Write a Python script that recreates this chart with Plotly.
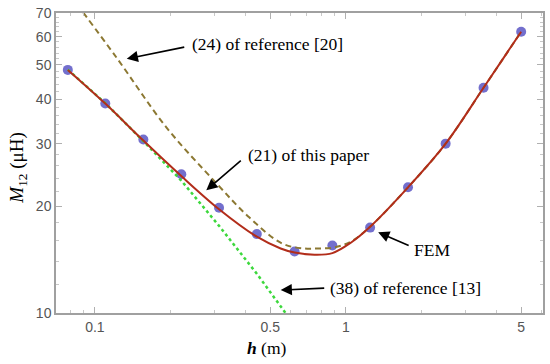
import math
import plotly.graph_objects as go

# FEM points
h_fem = [0.078, 0.11, 0.156, 0.221, 0.3125, 0.442, 0.625, 0.884, 1.25, 1.77, 2.5, 3.54, 5.0]
m_fem = [48.4, 38.9, 30.8, 24.6, 19.8, 16.7, 14.9, 15.5, 17.4, 22.6, 30.0, 43.1, 62.0]

# (21) of this paper
h_21 = [0.078, 0.11, 0.156, 0.221, 0.3125, 0.442, 0.55, 0.625, 0.75, 0.884, 1.05, 1.25, 1.77, 2.5, 3.54, 5.0]
m_21 = [48.4, 38.9, 30.6, 24.3, 19.6, 16.4, 15.2, 14.8, 14.6, 14.75, 15.8, 17.5, 22.6, 30.0, 43.1, 62.0]

# (24) of reference [20]
h_24 = [0.085, 0.122, 0.193, 0.305, 0.412, 0.557, 0.68, 0.78, 0.9, 1.05, 1.25, 1.77, 2.5, 3.54, 5.0]
m_24 = [74.0, 52.4, 33.3, 23.2, 18.6, 15.7, 15.2, 15.2, 15.3, 15.9, 17.5, 22.6, 30.0, 43.1, 62.0]

# (38) of reference [13]
h_38 = [0.078, 0.11, 0.156, 0.221, 0.3125, 0.442, 0.6]
m_38 = [48.5, 39.0, 30.5, 23.6, 17.6, 12.9, 9.6]

x_ticks = [0.1, 0.5, 1, 5]
x_tick_labels = ["0.1", "0.5", "1", "5"]
x_minor = [0.07, 0.08, 0.09, 0.2, 0.3, 0.4, 0.6, 0.7, 0.8, 0.9, 2, 3, 4, 6]
y_ticks = [10, 20, 30, 40, 50, 60, 70]
y_tick_labels = ["10", "20", "30", "40", "50", "60", "70"]
y_minor = [12, 14, 16, 18, 22, 24, 26, 28, 32, 34, 36, 38, 42, 44, 46, 48, 52, 54, 56, 58, 62, 64, 66, 68]

fig = go.Figure()
fig.add_trace(go.Scatter(x=h_fem, y=m_fem, mode="markers",
                         marker=dict(size=10, color="rgba(100,95,200,0.9)"), showlegend=False))
fig.add_trace(go.Scatter(x=h_38, y=m_38, mode="lines",
                         line=dict(color="#3CD83C", width=2.5, dash="dot"), showlegend=False))
fig.add_trace(go.Scatter(x=h_24, y=m_24, mode="lines", line_shape="spline",
                         line=dict(color="#8C7832", width=2, dash="6px,4px"), showlegend=False))
fig.add_trace(go.Scatter(x=h_21, y=m_21, mode="lines", line_shape="spline",
                         line=dict(color="#B22D1A", width=2), showlegend=False))

axis_common = dict(showline=True, linecolor="#a0a0a0", linewidth=1.5, mirror="allticks",
                   ticks="inside", ticklen=6, tickcolor="#b0b0b0", showgrid=False, zeroline=False,
                   tickfont=dict(family="Liberation Sans, Arial", size=14, color="#555555"))

fig.update_xaxes(type="log", range=[-1.155, 0.786], tickmode="array", tickvals=x_ticks,
                 ticktext=x_tick_labels,
                 minor=dict(tickmode="array", tickvals=x_minor, ticks="inside", ticklen=3,
                            tickcolor="#c8c8c8"), **axis_common)
fig.update_yaxes(type="log", range=[1, math.log10(70)], tickmode="array", tickvals=y_ticks,
                 ticktext=y_tick_labels,
                 minor=dict(tickmode="array", tickvals=y_minor, ticks="inside", ticklen=3,
                            tickcolor="#c8c8c8"), **axis_common)

serif = dict(family="Liberation Serif, Times New Roman", size=17.5, color="black")

arrows = [
    (-0.873, 1.716, 59, -12),
    (-0.556, 1.3455, 36, -31),
    (0.129, 1.2275, 32, 14),
    (-0.2594, 1.0646, 45, -2),
]
for x, y, ax, ay in arrows:
    fig.add_annotation(x=x, y=y, ax=ax, ay=ay, text="", showarrow=True, arrowhead=2,
                       arrowsize=1.4, arrowwidth=1.6, arrowcolor="black")

labels = [
    ("(24) of reference [20]", -0.620, 1.758),
    ("(21) of this paper", -0.398, 1.444),
    ("FEM", 0.263, 1.177),
    ("(38) of reference [13]", -0.069, 1.070),
]
for t, x, y in labels:
    fig.add_annotation(x=x, y=y, text=t, showarrow=False, xanchor="left", yanchor="middle",
                       font=serif)

fig.add_annotation(xref="paper", yref="paper", x=(268 - 56) / 489, y=(364 - 51 - 348) / 301,
                   text="<b><i>h</i></b> (m)", showarrow=False, xanchor="center", yanchor="middle",
                   font=dict(family="Liberation Serif", size=17.5, color="black"))
fig.add_annotation(xref="paper", yref="paper", x=(18 - 56) / 489, y=(313 - 168) / 301,
                   text="<i>M</i><sub>12</sub> (μH)", showarrow=False, textangle=-90,
                   xanchor="center", yanchor="middle",
                   font=dict(family="Liberation Serif", size=19, color="black"))

fig.update_layout(width=550, height=364, margin=dict(l=56, r=5, t=12, b=51),
                  plot_bgcolor="white", paper_bgcolor="white", showlegend=False)

fig.write_html("out.html", config={"displayModeBar": False},
               post_script="document.body.style.margin='0px';document.body.style.overflow='hidden';")
